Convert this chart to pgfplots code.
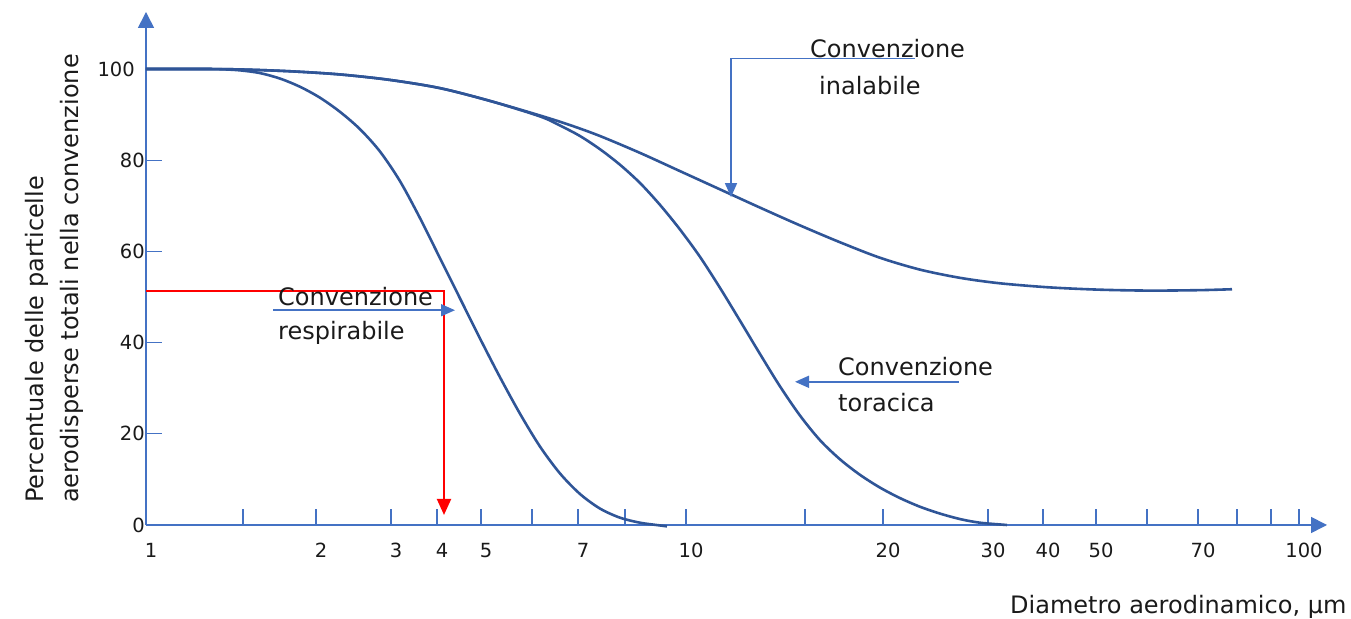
\documentclass[border=0pt]{standalone}
\usepackage{pgfplots}
\pgfplotsset{compat=1.18}
\usepackage{fontspec}
\setmainfont{DejaVu Sans}
\usetikzlibrary{arrows.meta}
\definecolor{axblue}{RGB}{68,114,196}
\definecolor{curveblue}{RGB}{47,85,151}
\definecolor{txt}{RGB}{26,26,26}
\begin{document}
\begin{tikzpicture}
\begin{axis}[
  x=1pt, y=4.56pt,
  xmin=146, xmax=1327, ymin=0, ymax=112.5,
  axis lines=left,
  axis line style={axblue, line width=1.6pt, -{Triangle[width=16pt,length=16pt]}},
  clip=false,
  xtick={146,243,316,391,437,481,532,578,625,686,805,883,988,1043,1096,1147,1198,1237,1271,1299},
  xticklabels={1,,2,3,4,5,,7,,10,,20,30,40,50,,70,,,100},
  ytick={0,20,40,60,80},
  extra y ticks={100},
  extra y tick style={major tick length=0pt, yticklabel style={xshift=-10pt}},
  tick align=inside,
  major tick length=16pt,
  tick style={axblue, line width=1.3pt},
  ticklabel style={font=\fontsize{19.5}{22}\selectfont, text=txt},
  /pgf/number format/assume math mode=true,
  xticklabel style={xshift=5pt, yshift=-15pt},
  yticklabel style={inner sep=1pt},
]
% Convenzione respirabile
\addplot[curveblue, line width=2.6pt, smooth] coordinates {
(146,100) (200,100) (220,99.95) (240,99.7) (260,99.1) (280,97.9) (300,96.1)
(320,93.7) (340,90.6) (360,86.8) (380,81.9) (400,75.4) (420,67.3) (440,58.5)
(460,49.7) (480,40.9) (500,32.4) (520,24.4) (540,17.2) (560,11.3) (580,6.8)
(600,3.6) (620,1.6) (640,0.5) (660,-0.1) (667,-0.3)};
% Convenzione inalabile
\addplot[curveblue, line width=2.6pt, smooth] coordinates {
(146,100) (200,100) (240,99.9) (290,99.5) (340,98.8) (390,97.6) (440,95.8)
(490,93.0) (540,89.8) (570,87.7) (600,85.3) (640,81.6) (680,77.6) (720,73.6)
(760,69.6) (800,65.7) (840,62.0) (880,58.6) (920,56.0) (960,54.2) (1000,53.0)
(1050,52.1) (1100,51.6) (1150,51.4) (1200,51.5) (1232,51.7)};
% Convenzione toracica
\addplot[curveblue, line width=2.6pt, smooth] coordinates {
(146,100) (200,100) (240,99.9) (290,99.5) (340,98.8) (390,97.6) (440,95.8)
(490,93.0) (540,89.6) (560,87.6) (580,85.3) (600,82.4) (620,79.0) (640,75.0)
(660,70.2) (680,64.8) (700,58.8) (720,52.0) (740,44.8) (760,37.5) (780,30.4)
(800,24.0) (820,18.6) (840,14.4) (860,11.0) (880,8.2) (900,5.9) (920,4.0)
(940,2.5) (960,1.3) (980,0.5) (1007,0)};
% red construction line
\addplot[red, line width=2pt, -{Triangle[width=14pt,length=16pt]}] coordinates {
(146,51.3) (444,51.3) (444,2.2)};
% annotation arrows
\addplot[axblue, line width=1.5pt, -{Triangle[width=12pt,length=14pt]}] coordinates {
(915,102.3) (731,102.3) (731,71.9)};
\addplot[axblue, line width=1.5pt, -{Triangle[width=12pt,length=14pt]}] coordinates {
(273,47.1) (455,47.1)};
\addplot[axblue, line width=1.5pt, -{Triangle[width=12pt,length=14pt]}] coordinates {
(959,31.4) (795,31.4)};
% texts
\tikzset{lab/.style={anchor=base west, inner sep=0pt, text=txt, font=\fontsize{24}{28}\selectfont}}
\node[lab] at (axis cs:810,102.6) {Convenzione};
\node[lab] at (axis cs:819,94.5) {inalabile};
\node[lab] at (axis cs:278,48.2) {Convenzione};
\node[lab] at (axis cs:278,40.6) {respirabile};
\node[lab] at (axis cs:838,32.7) {Convenzione};
\node[lab] at (axis cs:838,24.8) {toracica};
\node[lab] at (axis cs:1010,-19.3) {Diametro aerodinamico, µm};
\node[lab, rotate=90] at (axis cs:44,4.8) {Percentuale delle particelle};
\node[lab, rotate=90] at (axis cs:79,4.8) {aerodisperse totali nella convenzione};
\coordinate (BL) at (axis cs:0,-20.61);
\coordinate (TR) at (axis cs:1351,115.13);
\end{axis}
\pgfresetboundingbox
\path[use as bounding box] (BL) rectangle (TR);
\end{tikzpicture}
\end{document}
